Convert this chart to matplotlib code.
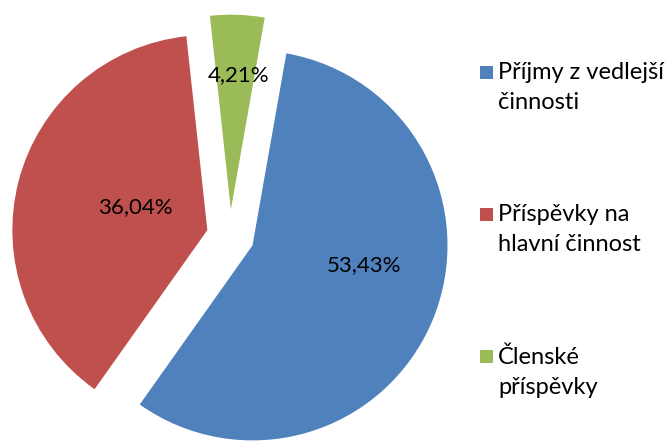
import numpy as np
import matplotlib.pyplot as plt
from matplotlib.patches import Rectangle

plt.rcParams['font.family'] = ['Lato', 'DejaVu Sans']

# hodnoty z grafu
categories = ['Příjmy z vedlejší\nčinnosti', 'Příspěvky na\nhlavní činnost', 'Členské\npříspěvky']
shares = [53.43, 36.04, 4.21]
pct_labels = ['53,43%', '36,04%', '4,21%']
colors = ['#4F81BD', '#C0504D', '#9BBB59']

W, H = 671, 441
R = 195.0          # polomer v pixelech
cx, cy = 230, 236  # stred kolace (pixely od leveho horniho rohu)

fig = plt.figure(figsize=(W / 100, H / 100), dpi=100)
ax = fig.add_axes([0, 0, 1, 1])

wedges, _ = ax.pie(shares, colors=colors, startangle=80, counterclock=False,
                   explode=[0.125, 0.12, 0.135], radius=1.0,
                   wedgeprops=dict(linewidth=0))

ax.set_xlim(-cx / R, (W - cx) / R)
ax.set_ylim(-(H - cy) / R, cy / R)
ax.axis('off')

# posun popisku vuci stredu vysece (v jednotkach polomeru)
label_off = [(0.57, -0.1), (-0.37, 0.118), (0.04, 0.69)]
for w, txt, (dx, dy) in zip(wedges, pct_labels, label_off):
    x0, y0 = w.center
    ax.text(x0 + dx, y0 + dy, txt, ha='center', va='center',
            fontsize=16, color='black')

# legenda vpravo
for i, (lab, col) in enumerate(zip(categories, colors)):
    ytop = 62 + i * 142
    fig.add_artist(Rectangle((480 / W, 1 - (ytop + 17) / H), 13 / W, 13 / H,
                             transform=fig.transFigure, color=col, lw=0))
    fig.text(498 / W, 1 - ytop / H, lab, ha='left', va='top',
             fontsize=17, linespacing=1.55, color='black')

fig.savefig('out.png', dpi=100)
